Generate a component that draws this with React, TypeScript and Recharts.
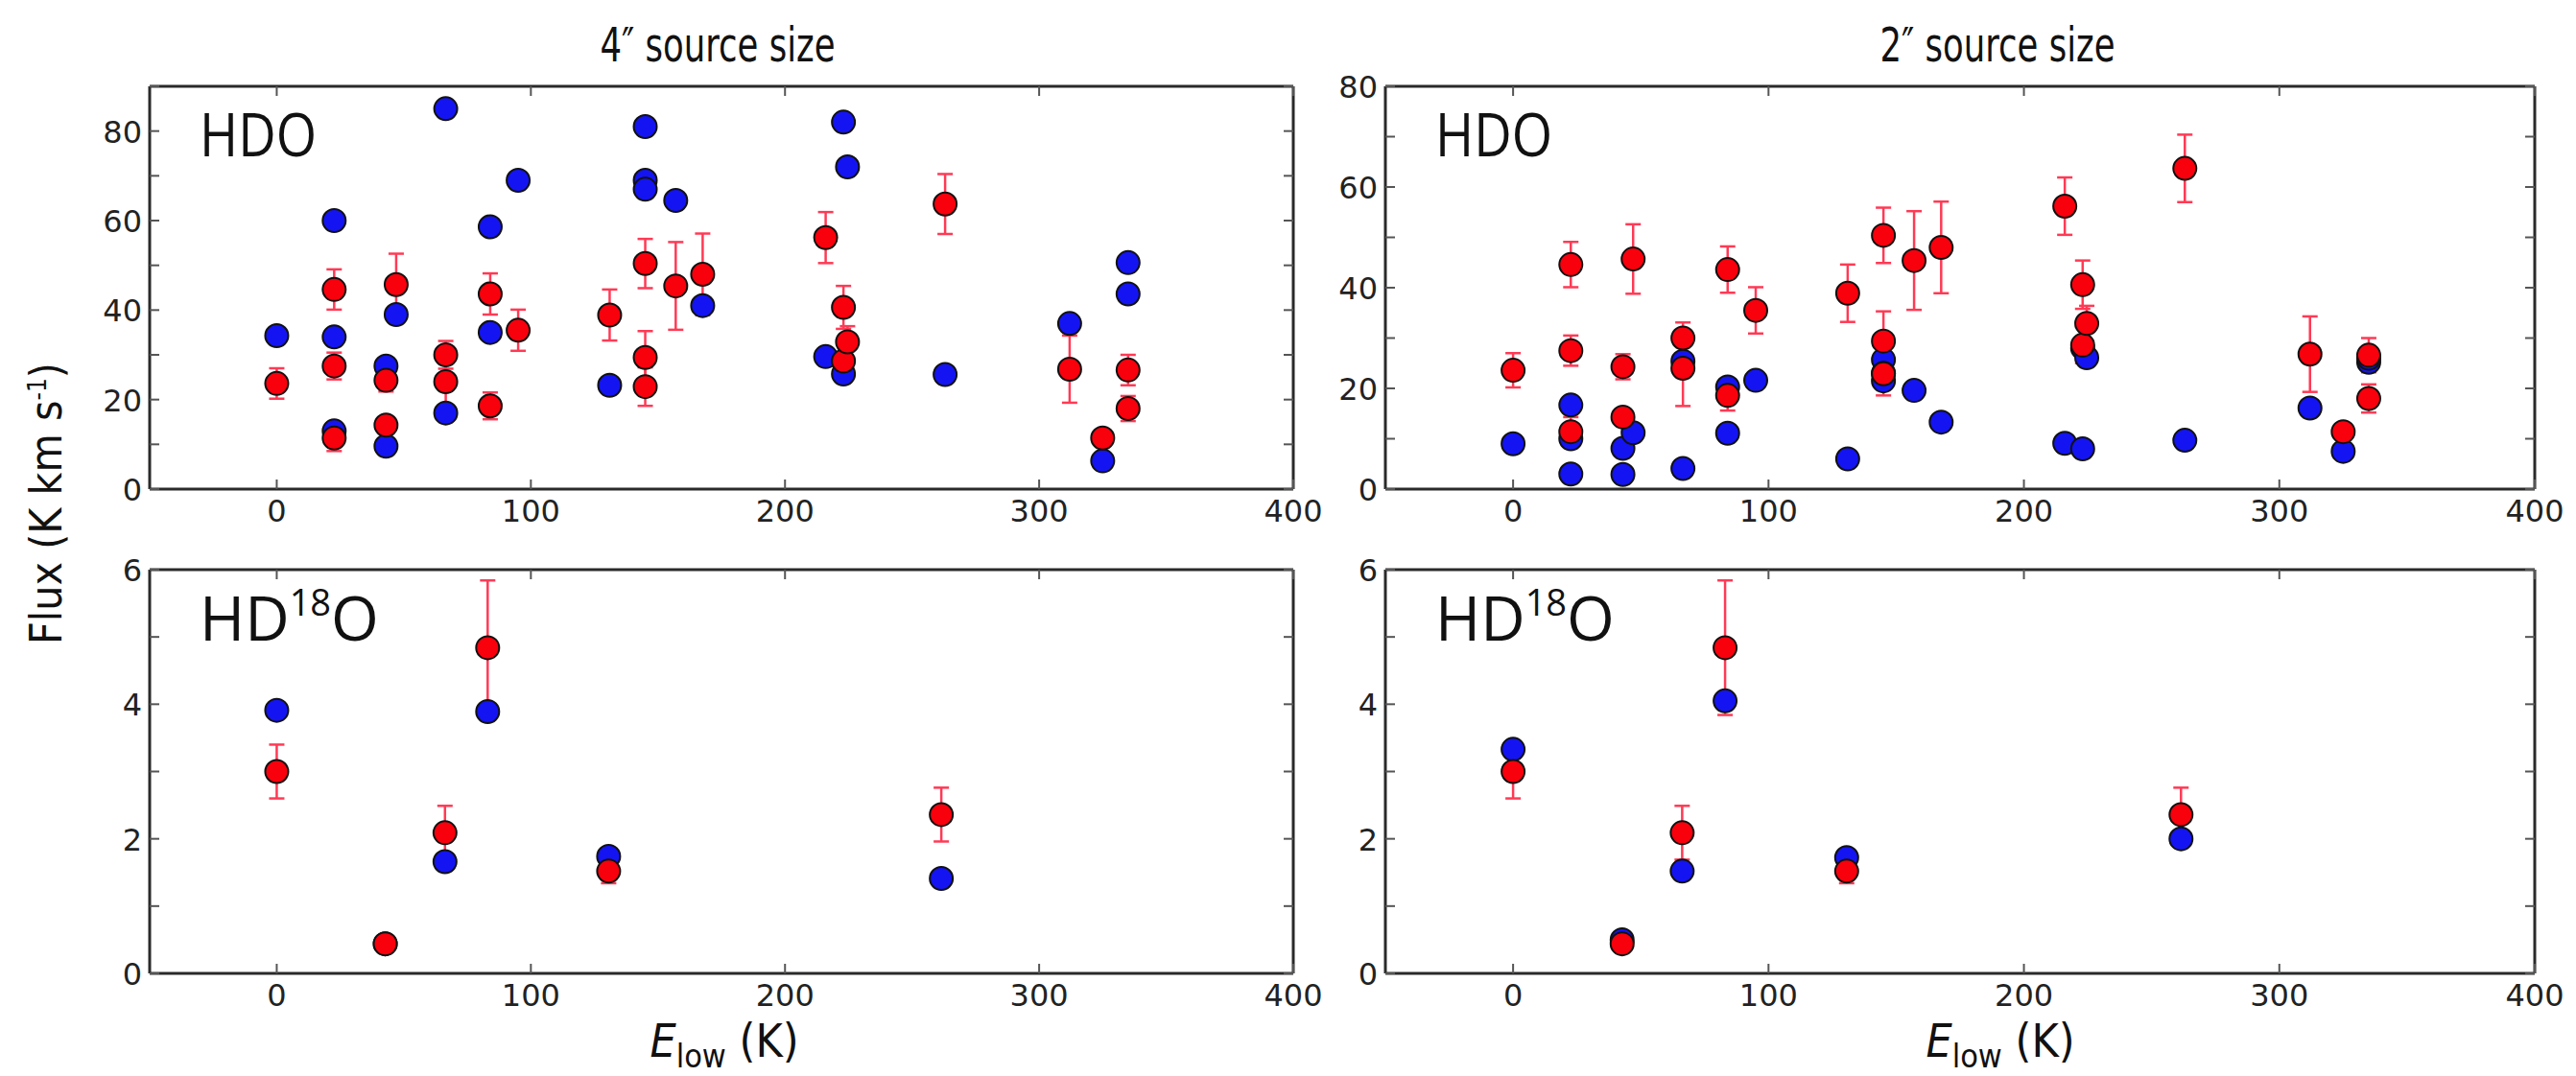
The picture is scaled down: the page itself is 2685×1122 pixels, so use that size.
import React from 'react'
import { ScatterChart, Scatter, XAxis, YAxis, ErrorBar } from 'recharts'

// HDO lines, lower level energy (K), observed flux with errors and the two model fluxes
const hdoElow = [0, 22.6, 22.6, 22.6, 43, 43, 47, 66.5, 66.5, 84, 84, 95, 131, 145, 145, 145, 157, 167.6, 216, 223, 223, 224.6, 263, 312, 325, 335, 335]
const hdoObserved = [23.6, 44.6, 27.5, 11.4, 24.3, 14.3, 45.7, 30, 24, 43.6, 18.6, 35.5, 38.9, 50.4, 29.4, 22.9, 45.4, 48, 56.2, 40.6, 28.6, 32.9, 63.7, 26.8, 11.4, 26.6, 18]
const hdoError = [3.4, 4.5, 3, 2.9, 2.5, 0.8, 6.9, 3.1, 7.5, 4.6, 3, 4.6, 5.7, 5.5, 5.9, 4.3, 9.8, 9.1, 5.7, 4.8, 3.6, 3.5, 6.7, 7.5, 0.8, 3.4, 2.8]
const hdoModel4 = [34.3, 60, 34, 13, 27.5, 9.6, 39, 85, 17, 58.6, 35, 69, 23.2, 81, 69, 67, 64.5, 41, 29.6, 82, 25.7, 72, 25.6, 37, 6.3, 50.6, 43.6]
const hdoModel2 = [9, 16.7, 10, 3, 8.1, 2.9, 11.2, 25.4, 4.1, 20.3, 11.1, 21.6, 6, 25.7, 23, 21.5, 19.6, 13.3, 9.1, 28, 8, 26.1, 9.7, 16.1, 7.5, 25.2, 26]

// HD18O lines
const hd18oElow = [0, 42.7, 66.2, 83, 130.6, 261.5]
const hd18oObserved = [3.0, 0.44, 2.09, 4.84, 1.52, 2.36]
const hd18oError = [0.4, 0.05, 0.4, 1.0, 0.18, 0.4]
const hd18oModel4 = [3.91, 0.44, 1.66, 3.89, 1.74, 1.41]
const hd18oModel2 = [3.33, 0.5, 1.52, 4.05, 1.72, 2.0]

const xTicks = [0, 100, 200, 300, 400]
const hdoTicks4 = [0, 10, 20, 30, 40, 50, 60, 70, 80, 90]
const hdoTicks2 = [0, 10, 20, 30, 40, 50, 60, 70, 80]
const hd18oTicks = [0, 1, 2, 3, 4, 5, 6]

const BLUE = '#1414f2'
const RED = '#f8000c'
const BAR = '#ff3a55'
const FRAME = '#2a2a2a'
const TICK_COLOR = '#555'
const TICK_FONT = "'DejaVu Sans', sans-serif"
const NARROW_FONT = "'Liberation Sans Narrow', 'DejaVu Sans Condensed', sans-serif"
const LABEL_FONT = "'Open Sans', sans-serif"
const TICK_SIZE = 32

const Y_W = 110
const R_W = 12
const T_H = 30 // room above the frame for the top y tick label
const B_H = 70
const EXTRA_R = 40 // room for the last x tick label
const TICK_LEN = 10

const dot = (color: string) => (p: any) => (
  <circle cx={p.cx} cy={p.cy} r={12} fill={color} stroke="#111" strokeWidth={2} />
)

const BottomTick = ({ x, y, payload }: any) => (
  <g>
    <line x1={x} y1={y} x2={x} y2={y - TICK_LEN} stroke={TICK_COLOR} strokeWidth={2} />
    <text x={x} y={y + 34} textAnchor="middle" fontSize={TICK_SIZE} fontFamily={TICK_FONT} fill="#222">
      {payload.value}
    </text>
  </g>
)

const TopTick = ({ x, y }: any) => (
  <line x1={x} y1={y} x2={x} y2={y + TICK_LEN} stroke={TICK_COLOR} strokeWidth={2} />
)

const LeftTick = ({ x, y, payload, step }: any) => (
  <g>
    <line x1={x} y1={y} x2={x + TICK_LEN} y2={y} stroke={TICK_COLOR} strokeWidth={2} />
    {payload.value % step === 0 && (
      <text x={x - 8} y={y + 12} textAnchor="end" fontSize={TICK_SIZE} fontFamily={TICK_FONT} fill="#222">
        {payload.value}
      </text>
    )}
  </g>
)

const RightTick = ({ x, y }: any) => (
  <line x1={x} y1={y} x2={x - TICK_LEN} y2={y} stroke={TICK_COLOR} strokeWidth={2} />
)

interface PanelProps {
  x0: number
  x1: number
  y0: number
  y1: number
  elow: number[]
  model: number[]
  observed: number[]
  error: number[]
  yMax: number
  yTicks: number[]
  labelStep: number
}

function Panel({ x0, x1, y0, y1, elow, model, observed, error, yMax, yTicks, labelStep }: PanelProps) {
  const modelData = elow.map((x, i) => ({ x, y: model[i] }))
  const obsData = elow.map((x, i) => ({ x, y: observed[i], err: error[i] }))
  const width = x1 - x0 + Y_W + R_W + EXTRA_R
  const height = y1 - y0 + T_H + B_H
  const axisLine = { stroke: FRAME, strokeWidth: 3 }

  return (
    <div style={{ position: 'absolute', left: x0 - Y_W, top: y0 - T_H, width, height }}>
      <ScatterChart width={width} height={height} margin={{ top: 0, right: EXTRA_R, bottom: 0, left: 0 }}>
        <XAxis
          type="number"
          dataKey="x"
          domain={[-50, 400]}
          ticks={xTicks}
          interval={0}
          height={B_H}
          tickSize={0}
          tickMargin={0}
          tickLine={false}
          axisLine={axisLine}
          tick={BottomTick}
          allowDataOverflow
        />
        <XAxis
          xAxisId="top"
          orientation="top"
          type="number"
          dataKey="x"
          domain={[-50, 400]}
          ticks={xTicks}
          interval={0}
          height={T_H}
          tickSize={0}
          tickMargin={0}
          tickLine={false}
          axisLine={axisLine}
          tick={TopTick}
          allowDataOverflow
        />
        <YAxis
          type="number"
          dataKey="y"
          domain={[0, yMax]}
          ticks={yTicks}
          interval={0}
          width={Y_W}
          tickSize={0}
          tickMargin={0}
          tickLine={false}
          axisLine={axisLine}
          tick={(p: any) => <LeftTick {...p} step={labelStep} />}
          allowDataOverflow
        />
        <YAxis
          yAxisId="right"
          orientation="right"
          type="number"
          dataKey="y"
          domain={[0, yMax]}
          ticks={yTicks}
          interval={0}
          width={R_W}
          tickSize={0}
          tickMargin={0}
          tickLine={false}
          axisLine={axisLine}
          tick={RightTick}
          allowDataOverflow
        />
        <Scatter data={modelData} fill={BLUE} shape={dot(BLUE)} isAnimationActive={false} />
        <Scatter data={obsData} fill={RED} shape={dot(RED)} isAnimationActive={false}>
          <ErrorBar dataKey="err" direction="y" width={8} stroke={BAR} strokeWidth={2.5} />
        </Scatter>
      </ScatterChart>
    </div>
  )
}

const LEFT = [156, 1348]
const RIGHT = [1444, 2642]
const TOP = [90, 510]
const BOTTOM = [594, 1015]

export default function App() {
  return (
    <div style={{ position: 'absolute', left: 0, top: 0, width: 2685, height: 1122, background: '#fff', overflow: 'hidden' }}>
      <Panel x0={LEFT[0]} x1={LEFT[1]} y0={TOP[0]} y1={TOP[1]} elow={hdoElow} model={hdoModel4}
        observed={hdoObserved} error={hdoError} yMax={90} yTicks={hdoTicks4} labelStep={20} />
      <Panel x0={RIGHT[0]} x1={RIGHT[1]} y0={TOP[0]} y1={TOP[1]} elow={hdoElow} model={hdoModel2}
        observed={hdoObserved} error={hdoError} yMax={80} yTicks={hdoTicks2} labelStep={20} />
      <Panel x0={LEFT[0]} x1={LEFT[1]} y0={BOTTOM[0]} y1={BOTTOM[1]} elow={hd18oElow} model={hd18oModel4}
        observed={hd18oObserved} error={hd18oError} yMax={6} yTicks={hd18oTicks} labelStep={2} />
      <Panel x0={RIGHT[0]} x1={RIGHT[1]} y0={BOTTOM[0]} y1={BOTTOM[1]} elow={hd18oElow} model={hd18oModel2}
        observed={hd18oObserved} error={hd18oError} yMax={6} yTicks={hd18oTicks} labelStep={2} />

      <svg width={2685} height={1122} style={{ position: 'absolute', left: 0, top: 0, pointerEvents: 'none' }}>
        <text x={748} y={64} textAnchor="middle" fontSize={50} textLength={245} lengthAdjust="spacingAndGlyphs"
          fontFamily={NARROW_FONT} fill="#111">4″ source size</text>
        <text x={2082} y={64} textAnchor="middle" fontSize={50} textLength={245} lengthAdjust="spacingAndGlyphs"
          fontFamily={NARROW_FONT} fill="#111">2″ source size</text>

        <text transform="translate(64, 525) rotate(-90)" textAnchor="middle" fontSize={46} fontFamily={NARROW_FONT} fill="#111">
          Flux (K km s<tspan dy={-16} fontSize={26}>-1</tspan><tspan dy={16}>)</tspan>
        </text>

        {[755, 2085].map((cx) => (
          <text key={cx} x={cx} y={1102} textAnchor="middle" fontSize={48} fontFamily={NARROW_FONT} fill="#111">
            <tspan fontStyle="italic">E</tspan>
            <tspan dy={11} fontSize={34}>low</tspan>
            <tspan dy={-11}> (K)</tspan>
          </text>
        ))}

        {[LEFT[0], RIGHT[0]].map((px) => (
          <text key={'hdo' + px} x={px + 52} y={TOP[0] + 73} fontSize={62} textLength={122} lengthAdjust="spacingAndGlyphs"
            fontFamily={LABEL_FONT} fill="#111">HDO</text>
        ))}
        {[LEFT[0], RIGHT[0]].map((px) => (
          <text key={'hd18o' + px} x={px + 52} y={BOTTOM[0] + 74} fontSize={64} fontFamily={LABEL_FONT} fill="#111">
            HD<tspan dy={-26} fontSize={38}>18</tspan><tspan dy={26}>O</tspan>
          </text>
        ))}
      </svg>
    </div>
  )
}
